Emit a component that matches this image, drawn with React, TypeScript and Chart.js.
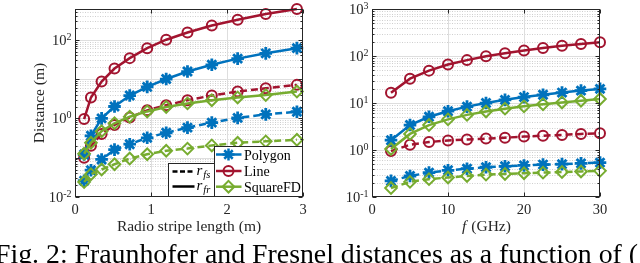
import React, { useEffect, useRef } from 'react';
import { Chart, registerables } from 'chart.js';

Chart.register(...registerables);

// ---------- data ----------
const stripeLength = [0.12, 0.21, 0.35, 0.52, 0.72, 0.95, 1.2, 1.48, 1.8, 2.14, 2.51, 2.92];
const polygonFrLen = [0.12, 0.36, 1.0, 2.0, 3.8, 6.3, 10, 15.5, 23, 33, 45, 61];
const lineFrLen = [0.96, 3.4, 8.6, 18.5, 34, 61, 100, 152, 230, 320, 450, 600];
const squareFrLen = [0.126, 0.24, 0.47, 0.75, 1.1, 1.5, 1.95, 2.4, 2.9, 3.4, 3.9, 4.8];
const polygonFsLen = [0.026, 0.048, 0.09, 0.16, 0.22, 0.32, 0.43, 0.58, 0.78, 1.03, 1.26, 1.47];
const lineFsLen = [0.1, 0.2, 0.4, 0.68, 1.05, 1.6, 2.15, 2.9, 3.8, 4.8, 5.8, 7.1];
const squareFsLen = [0.024, 0.038, 0.05, 0.068, 0.095, 0.122, 0.15, 0.17, 0.205, 0.24, 0.26, 0.285];

const freqGHz = [2.5, 5, 7.5, 10, 12.5, 15, 17.5, 20, 22.5, 25, 27.5, 30];
const polygonFrFreq = [1.62, 3.4, 5.1, 6.7, 8.4, 10, 11.7, 13.4, 15, 16.7, 18.4, 20];
const lineFrFreq = [16.5, 33, 49, 66, 82, 99, 115, 132, 148, 165, 181, 198];
const squareFrFreq = [1.05, 2.2, 3.4, 4.5, 5.6, 6.6, 7.6, 8.5, 9.4, 10.3, 11.2, 12.2];
const polygonFsFreq = [0.22, 0.28, 0.33, 0.37, 0.4, 0.43, 0.45, 0.47, 0.49, 0.5, 0.52, 0.54];
const lineFsFreq = [0.95, 1.3, 1.48, 1.6, 1.68, 1.75, 1.83, 1.93, 2.02, 2.1, 2.2, 2.28];
const squareFsFreq = [0.155, 0.21, 0.24, 0.26, 0.28, 0.3, 0.31, 0.32, 0.33, 0.34, 0.35, 0.36];

const lengthTicks = [0, 1, 2, 3];
const freqTicks = [0, 10, 20, 30];
const lengthDecadeLabels = [-2, 0, 2];
const freqDecadeLabels = [-1, 0, 1, 2, 3];
const seriesNames = ['Polygon', 'Line', 'SquareFD'];
const styleNames = ['fs', 'fr'];

// ---------- styles ----------
const BLUE = '#0072BD';
const RED = '#A2142F';
const GREEN = '#77AC30';
const AXIS = '#262626';
const SERIF = '"Liberation Serif", "DejaVu Serif", serif';
const DASH = [7, 4];

type PanelCfg = {
  xTicks: number[];
  decadeLabels: number[];
  xTitle: 'length' | 'freq';
  legend: boolean;
};

function drawPow(ctx: CanvasRenderingContext2D, exp: string, xRight: number, yTick: number) {
  ctx.textAlign = 'left';
  ctx.textBaseline = 'alphabetic';
  ctx.font = `14.5px ${SERIF}`;
  const wb = ctx.measureText('10').width;
  ctx.font = `10px ${SERIF}`;
  const we = ctx.measureText(exp).width;
  const x0 = xRight - we - wb;
  ctx.font = `14.5px ${SERIF}`;
  ctx.fillText('10', x0, yTick + 5);
  ctx.font = `10px ${SERIF}`;
  ctx.fillText(exp, x0 + wb, yTick);
}

function markerPath(ctx: CanvasRenderingContext2D, kind: number, x: number, y: number) {
  ctx.beginPath();
  if (kind === 0) {
    const r = 6;
    const d = r * Math.SQRT1_2;
    ctx.moveTo(x - r, y); ctx.lineTo(x + r, y);
    ctx.moveTo(x, y - r); ctx.lineTo(x, y + r);
    ctx.moveTo(x - d, y - d); ctx.lineTo(x + d, y + d);
    ctx.moveTo(x - d, y + d); ctx.lineTo(x + d, y - d);
  } else if (kind === 1) {
    ctx.arc(x, y, 5, 0, Math.PI * 2);
  } else {
    const r = 5.8;
    ctx.moveTo(x - r, y); ctx.lineTo(x, y - r); ctx.lineTo(x + r, y); ctx.lineTo(x, y + r); ctx.closePath();
  }
  ctx.stroke();
}

function makePlugin(cfg: PanelCfg) {
  return {
    id: 'matlabAxes',
    beforeDatasetsDraw(chart: any) {
      const ctx: CanvasRenderingContext2D = chart.ctx;
      const a = chart.chartArea;
      const xs = chart.scales.x;
      const ys = chart.scales.y;
      ctx.save();
      ctx.fillStyle = '#ffffff';
      ctx.fillRect(a.left, a.top, a.right - a.left, a.bottom - a.top);
      const lo = Math.floor(Math.log10(ys.min));
      const hi = Math.ceil(Math.log10(ys.max));
      ctx.strokeStyle = '#cfcfcf';
      ctx.lineWidth = 1;
      ctx.setLineDash([1, 1.5]);
      for (let d = lo; d <= hi; d++) {
        for (let k = 2; k <= 9; k++) {
          const v = k * Math.pow(10, d);
          if (v <= ys.min || v >= ys.max) continue;
          const py = Math.round(ys.getPixelForValue(v)) + 0.5;
          ctx.beginPath(); ctx.moveTo(a.left, py); ctx.lineTo(a.right, py); ctx.stroke();
        }
      }
      ctx.setLineDash([]);
      ctx.strokeStyle = '#dedede';
      for (let d = lo; d <= hi; d++) {
        const v = Math.pow(10, d);
        if (v <= ys.min || v >= ys.max) continue;
        const py = Math.round(ys.getPixelForValue(v)) + 0.5;
        ctx.beginPath(); ctx.moveTo(a.left, py); ctx.lineTo(a.right, py); ctx.stroke();
      }
      for (const t of cfg.xTicks) {
        if (t <= xs.min || t >= xs.max) continue;
        const px = Math.round(xs.getPixelForValue(t)) + 0.5;
        ctx.beginPath(); ctx.moveTo(px, a.top); ctx.lineTo(px, a.bottom); ctx.stroke();
      }
      ctx.restore();
    },
    afterDraw(chart: any) {
      const ctx: CanvasRenderingContext2D = chart.ctx;
      const a = chart.chartArea;
      const xs = chart.scales.x;
      const ys = chart.scales.y;
      ctx.save();
      ctx.strokeStyle = AXIS;
      ctx.lineWidth = 1;
      ctx.setLineDash([]);
      const L = Math.round(a.left) + 0.5;
      const R = Math.round(a.right) - 0.5;
      const T = Math.round(a.top) + 0.5;
      const B = Math.round(a.bottom) - 0.5;
      ctx.strokeRect(L, T, R - L, B - T);
      const lo = Math.floor(Math.log10(ys.min));
      const hi = Math.ceil(Math.log10(ys.max));
      ctx.beginPath();
      for (let d = lo; d <= hi; d++) {
        for (let k = 1; k <= 9; k++) {
          const v = k * Math.pow(10, d);
          if (v < ys.min * 0.999 || v > ys.max * 1.001) continue;
          const py = Math.round(ys.getPixelForValue(v)) + 0.5;
          const len = k === 1 ? 4 : 2;
          ctx.moveTo(L, py); ctx.lineTo(L + len, py);
          ctx.moveTo(R, py); ctx.lineTo(R - len, py);
        }
      }
      for (const t of cfg.xTicks) {
        const px = Math.round(xs.getPixelForValue(t)) + 0.5;
        ctx.moveTo(px, B); ctx.lineTo(px, B - 4);
        ctx.moveTo(px, T); ctx.lineTo(px, T + 4);
      }
      ctx.stroke();

      ctx.fillStyle = AXIS;
      for (const e of cfg.decadeLabels) {
        const py = ys.getPixelForValue(Math.pow(10, e));
        drawPow(ctx, String(e), a.left - 3.5, py);
      }
      ctx.font = `14.5px ${SERIF}`;
      ctx.textAlign = 'center';
      ctx.textBaseline = 'alphabetic';
      for (const t of cfg.xTicks) {
        const px = xs.getPixelForValue(t);
        ctx.fillText(String(t), px, a.bottom + 17);
      }
      const cx = (a.left + a.right) / 2;
      const ty = a.bottom + 34;
      if (cfg.xTitle === 'length') {
        ctx.font = `15.5px ${SERIF}`;
        ctx.fillText('Radio stripe length (m)', cx, ty);
        ctx.save();
        ctx.translate(a.left - 36, (a.top + a.bottom) / 2);
        ctx.rotate(-Math.PI / 2);
        ctx.textAlign = 'center';
        ctx.font = `15.5px ${SERIF}`;
        ctx.fillText('Distance (m)', 0, 5);
        ctx.restore();
      } else {
        ctx.font = `italic 15.5px ${SERIF}`;
        const w1 = ctx.measureText('f').width;
        ctx.font = `15.5px ${SERIF}`;
        const rest = ' (GHz)';
        const w2 = ctx.measureText(rest).width;
        const x0 = cx - (w1 + w2) / 2;
        ctx.textAlign = 'left';
        ctx.font = `italic 15.5px ${SERIF}`;
        ctx.fillText('f', x0, ty);
        ctx.font = `15.5px ${SERIF}`;
        ctx.fillText(rest, x0 + w1 + 1, ty);
      }

      if (cfg.legend) {
        const b1l = a.left + 93.5, b1t = a.bottom - 33.5, b1r = a.right - 50, b1b = B;
        ctx.fillStyle = '#ffffff';
        ctx.fillRect(b1l, b1t, b1r - b1l, b1b - b1t);
        ctx.strokeStyle = AXIS;
        ctx.lineWidth = 1;
        ctx.strokeRect(b1l, b1t, b1r - b1l, b1b - b1t);
        const rows1 = [a.bottom - 25.5, a.bottom - 10.5];
        ctx.strokeStyle = '#000000';
        ctx.lineWidth = 2.5;
        rows1.forEach((ry, i) => {
          ctx.setLineDash(i === 0 ? [5, 2.5] : []);
          ctx.beginPath(); ctx.moveTo(b1l + 4, ry); ctx.lineTo(b1l + 26, ry); ctx.stroke();
          ctx.setLineDash([]);
          ctx.fillStyle = '#000000';
          ctx.textAlign = 'left';
          ctx.font = `italic 15px ${SERIF}`;
          ctx.fillText('r', b1l + 28, ry + 3);
          const wr = ctx.measureText('r').width;
          ctx.font = `italic 10.5px ${SERIF}`;
          ctx.fillText(styleNames[i], b1l + 29 + wr, ry + 6);
        });
        const b2l = a.left + 139.5, b2t = a.bottom - 50.5, b2r = R, b2b = B;
        ctx.fillStyle = '#ffffff';
        ctx.fillRect(b2l, b2t, b2r - b2l, b2b - b2t);
        ctx.strokeStyle = AXIS;
        ctx.lineWidth = 1;
        ctx.strokeRect(b2l, b2t, b2r - b2l, b2b - b2t);
        const rows2 = [a.bottom - 42.5, a.bottom - 26, a.bottom - 10.3];
        const cols = [BLUE, RED, GREEN];
        rows2.forEach((ry, i) => {
          ctx.strokeStyle = cols[i];
          ctx.lineWidth = 2.5;
          ctx.beginPath(); ctx.moveTo(b2l + 1.5, ry); ctx.lineTo(b2l + 27, ry); ctx.stroke();
          ctx.lineWidth = i === 0 ? 2.5 : 2;
          markerPath(ctx, i, b2l + 14, ry);
          ctx.fillStyle = '#000000';
          ctx.font = `14px ${SERIF}`;
          ctx.textAlign = 'left';
          ctx.fillText(seriesNames[i], b2l + 29.5, ry + 5);
        });
      }
      ctx.restore();
    },
  };
}

function ds(xv: number[], yv: number[], color: string, kind: number, dashed: boolean, order: number) {
  const style = kind === 0 ? 'star' : kind === 1 ? 'circle' : 'rectRot';
  return {
    data: xv.map((x, i) => ({ x, y: yv[i] })),
    borderColor: color,
    backgroundColor: 'rgba(0,0,0,0)',
    borderWidth: 2.5,
    borderDash: dashed ? DASH : [],
    pointStyle: style,
    pointRadius: kind === 0 ? 6.3 : kind === 1 ? 5 : 5.8,
    pointBorderWidth: kind === 0 ? 2.8 : 2,
    pointBorderColor: color,
    pointBackgroundColor: 'rgba(0,0,0,0)',
    pointHoverRadius: 0,
    tension: 0,
    clip: false as any,
    order,
  };
}

function Panel(props: {
  xv: number[];
  series: number[][];
  xMax: number;
  yMin: number;
  yMax: number;
  yAxisWidth: number;
  rightPad: number;
  cfg: PanelCfg;
}) {
  const ref = useRef<HTMLCanvasElement | null>(null);
  useEffect(() => {
    const canvas = ref.current;
    if (!canvas) return;
    const cols = [BLUE, RED, GREEN];
    const datasets = props.series.map((s, i) =>
      ds(props.xv, s, cols[i % 3], i % 3, i < 3, 10 - i)
    );
    const chart = new Chart(canvas, {
      type: 'line',
      data: { datasets: datasets as any },
      options: {
        animation: false,
        responsive: false,
        devicePixelRatio: 1,
        events: [],
        layout: { padding: { top: 7, right: props.rightPad, left: 0, bottom: 0 } },
        plugins: { legend: { display: false }, tooltip: { enabled: false } },
        scales: {
          x: {
            type: 'linear',
            min: 0,
            max: props.xMax,
            grid: { display: false },
            border: { display: false },
            ticks: { display: false },
            afterFit: (s: any) => { s.height = 43; },
          },
          y: {
            type: 'logarithmic',
            min: props.yMin,
            max: props.yMax,
            grid: { display: false },
            border: { display: false },
            ticks: { display: false },
            afterFit: (s: any) => { s.width = props.yAxisWidth; },
          },
        },
      } as any,
      plugins: [makePlugin(props.cfg) as any],
    });
    return () => chart.destroy();
  }, []);
  return <canvas ref={ref} width={320} height={240} style={{ width: 320, height: 240, display: 'block' }} />;
}

export default function App() {
  return (
    <div style={{ position: 'fixed', left: 0, top: 0, width: 640, height: 263, overflow: 'hidden', background: '#fff' }}>
      <div style={{ position: 'absolute', left: 0, top: 0 }}>
        <Panel
          xv={stripeLength}
          series={[polygonFsLen, lineFsLen, squareFsLen, polygonFrLen, lineFrLen, squareFrLen]}
          xMax={3}
          yMin={0.01}
          yMax={600}
          yAxisWidth={75}
          rightPad={17}
          cfg={{ xTicks: lengthTicks, decadeLabels: lengthDecadeLabels, xTitle: 'length', legend: true }}
        />
      </div>
      <div style={{ position: 'absolute', left: 320, top: 0 }}>
        <Panel
          xv={freqGHz}
          series={[polygonFsFreq, lineFsFreq, squareFsFreq, polygonFrFreq, lineFrFreq, squareFrFreq]}
          xMax={30}
          yMin={0.1}
          yMax={1000}
          yAxisWidth={52}
          rightPad={40}
          cfg={{ xTicks: freqTicks, decadeLabels: freqDecadeLabels, xTitle: 'freq', legend: false }}
        />
      </div>
      <div
        style={{
          position: 'absolute',
          left: -5,
          top: 240,
          fontFamily: SERIF,
          fontSize: 27.8,
          lineHeight: '27.8px',
          whiteSpace: 'nowrap',
          color: '#000',
        }}
      >
        Fig. 2: Fraunhofer and Fresnel distances as a function of (
      </div>
    </div>
  );
}
